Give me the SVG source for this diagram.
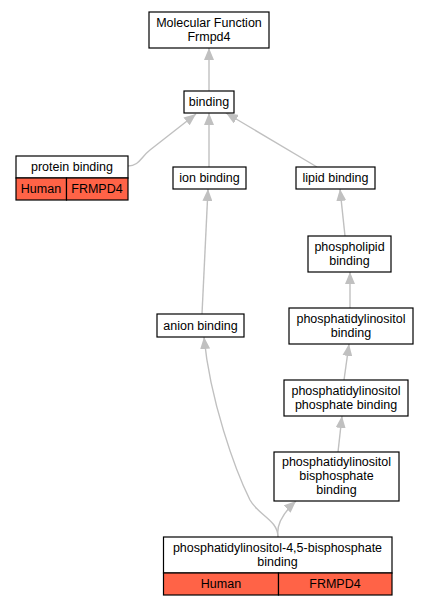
<svg xmlns="http://www.w3.org/2000/svg" width="428" height="605" viewBox="0 0 428 605">
<defs>
<style>
.box{fill:#fff;stroke:#000;stroke-width:1.2}
.tab{fill:#ff6347;stroke:#000;stroke-width:1.2}
text{font-family:"Liberation Sans",Arial,sans-serif;font-size:12.5px;fill:#000;text-anchor:middle}
.e{fill:none;stroke:#c0c0c0;stroke-width:1.4}
</style>
<marker id="ah" viewBox="0 0 12 10" refX="12" refY="5" markerWidth="12" markerHeight="10" markerUnits="userSpaceOnUse" orient="auto">
<path d="M0,0 L12,5 L0,10 z" fill="#c0c0c0"/>
</marker>
</defs>
<rect width="428" height="605" fill="#fff"/>
<g id="edges">
<path class="e" marker-end="url(#ah)" d="M209,91 L209,48"/>
<path class="e" marker-end="url(#ah)" d="M128,166 C139,166 141,157 150,150 L196,114"/>
<path class="e" marker-end="url(#ah)" d="M209,167 L209,113"/>
<path class="e" marker-end="url(#ah)" d="M317,167 L226,113"/>
<path class="e" marker-end="url(#ah)" d="M345,236 L340,189"/>
<path class="e" marker-end="url(#ah)" d="M350,308 L350,272"/>
<path class="e" marker-end="url(#ah)" d="M344,380 L349,344"/>
<path class="e" marker-end="url(#ah)" d="M338,452 L342,416"/>
<path class="e" marker-end="url(#ah)" d="M278,537 C276,525 284,512 296,501"/>
<path class="e" marker-end="url(#ah)" d="M278,537 C278,520 258,515 250,500 C235,470 210,400 204,337"/>
<path class="e" marker-end="url(#ah)" d="M202,314 L208,189"/>
</g>
<g id="mf">
<rect class="box" x="149" y="12" width="120" height="36"/>
<text x="209" y="26.5">Molecular Function</text>
<text x="209" y="40.5">Frmpd4</text>
</g>
<g id="binding">
<rect class="box" x="184" y="91" width="50" height="22"/>
<text x="209" y="106">binding</text>
</g>
<g id="protein_binding">
<rect class="box" x="16" y="156" width="112" height="22"/>
<text x="72" y="171">protein binding</text>
<rect class="tab" x="16" y="178" width="50.5" height="22"/>
<rect class="tab" x="66.5" y="178" width="61.5" height="22"/>
<text x="41" y="193">Human</text>
<text x="97" y="193">FRMPD4</text>
</g>
<g id="ion_binding">
<rect class="box" x="173" y="167" width="73" height="22"/>
<text x="209.5" y="182">ion binding</text>
</g>
<g id="lipid_binding">
<rect class="box" x="296" y="167" width="79" height="22"/>
<text x="335.5" y="182">lipid binding</text>
</g>
<g id="phospholipid_binding">
<rect class="box" x="308" y="236" width="83" height="36"/>
<text x="349.5" y="250.5">phospholipid</text>
<text x="349.5" y="264.5">binding</text>
</g>
<g id="anion_binding">
<rect class="box" x="157" y="314" width="87" height="23"/>
<text x="200.5" y="329.5">anion binding</text>
</g>
<g id="pi_binding">
<rect class="box" x="289" y="308" width="124" height="36"/>
<text x="351" y="322.5">phosphatidylinositol</text>
<text x="351" y="336.5">binding</text>
</g>
<g id="pip_binding">
<rect class="box" x="284" y="380" width="124" height="36"/>
<text x="346" y="394.5">phosphatidylinositol</text>
<text x="346" y="408.5">phosphate binding</text>
</g>
<g id="bisp_binding">
<rect class="box" x="274" y="452" width="125" height="49"/>
<text x="336.5" y="466">phosphatidylinositol</text>
<text x="336.5" y="480">bisphosphate</text>
<text x="336.5" y="494">binding</text>
</g>
<g id="pip2_binding">
<rect class="box" x="163.5" y="537" width="228.5" height="36"/>
<text x="277.5" y="551.5">phosphatidylinositol-4,5-bisphosphate</text>
<text x="277.5" y="565.5">binding</text>
<rect class="tab" x="163.5" y="573" width="115" height="22"/>
<rect class="tab" x="278.5" y="573" width="113.5" height="22"/>
<text x="221" y="588">Human</text>
<text x="335" y="588">FRMPD4</text>
</g>
</svg>
